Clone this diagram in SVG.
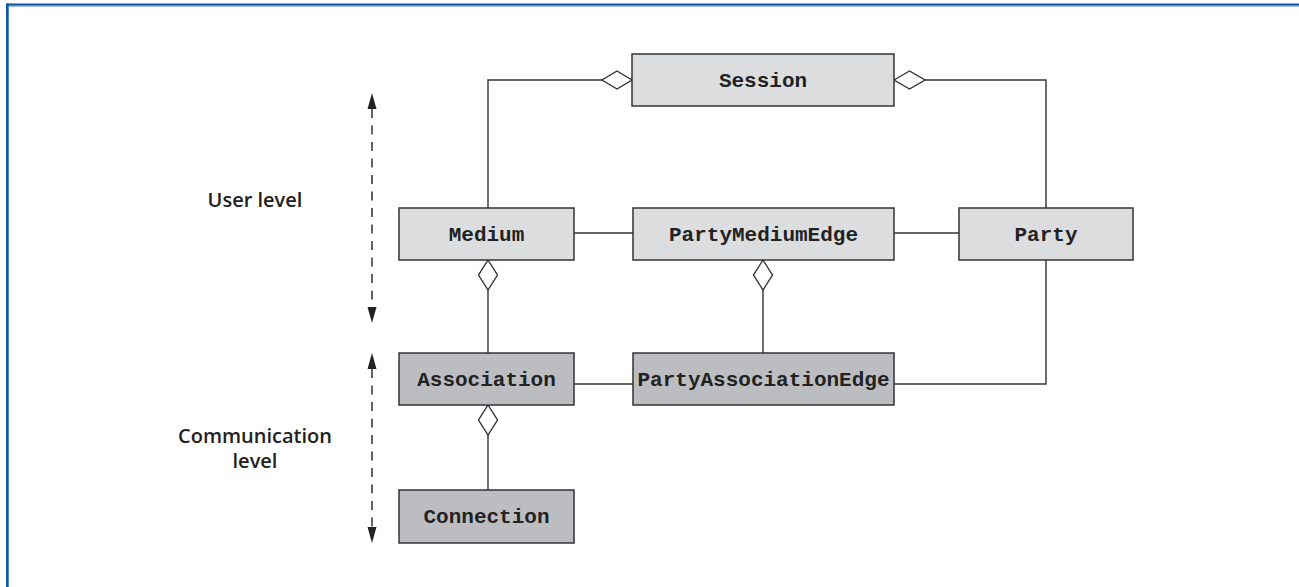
<svg xmlns="http://www.w3.org/2000/svg" width="1299" height="587" viewBox="0 0 1299 587">
<style>
.box{stroke:#333;stroke-width:1.5}
.light{fill:#dcdddf}
.dark{fill:#bcbdc1}
.lbl{font-family:"Liberation Mono","Courier New",monospace;font-weight:bold;font-size:21px;fill:#222;text-anchor:middle}
.side{font-family:"Open Sans","Liberation Sans",sans-serif;font-weight:600;font-size:20px;fill:#222;text-anchor:middle}
.ln{fill:none;stroke:#333;stroke-width:1.4}
.dia{fill:#fff;stroke:#333;stroke-width:1.4}
.dash{fill:none;stroke:#222;stroke-width:1.4;stroke-dasharray:9 7.5}
.ah{fill:#222}
</style>
<rect x="0" y="0" width="1299" height="587" fill="#fff"/>
<g id="frame">
<rect x="6" y="3.5" width="1293" height="2" fill="#0d4c96"/>
<rect x="6" y="5.5" width="1293" height="1" fill="#3a7bc0"/>
<rect x="6" y="3.5" width="2.7" height="583.5" fill="#0d5aa7"/>
</g>
<g id="levels">
<text class="side" x="255" y="207">User level</text>
<text class="side" x="255" y="443">Communication</text>
<text class="side" x="255" y="468">level</text>
<line class="dash" x1="372" y1="109" x2="372" y2="307"/>
<polygon class="ah" points="372,93 367.5,109 376.5,109"/>
<polygon class="ah" points="372,323 367.5,307 376.5,307"/>
<line class="dash" x1="372" y1="369" x2="372" y2="527"/>
<polygon class="ah" points="372,353 367.5,369 376.5,369"/>
<polygon class="ah" points="372,543 367.5,527 376.5,527"/>
</g>
<g id="connectors">
<polyline class="ln" points="602,80 488,80 488,208"/>
<polygon class="dia" points="632,80 617,71 602,80 617,89"/>
<polyline class="ln" points="925,80 1046,80 1046,208"/>
<polygon class="dia" points="894,80 909.5,71 925,80 909.5,89"/>
<line class="ln" x1="574" y1="233" x2="633" y2="233"/>
<line class="ln" x1="894" y1="233" x2="959" y2="233"/>
<line class="ln" x1="488" y1="290" x2="488" y2="353"/>
<polygon class="dia" points="488,260 497.5,275 488,290 478.5,275"/>
<line class="ln" x1="763" y1="290" x2="763" y2="353"/>
<polygon class="dia" points="763,260 772.5,275 763,290 753.5,275"/>
<line class="ln" x1="574" y1="384" x2="633" y2="384"/>
<polyline class="ln" points="894,384 1046,384 1046,260"/>
<line class="ln" x1="488" y1="435" x2="488" y2="490"/>
<polygon class="dia" points="488,405 497.5,420 488,435 478.5,420"/>
</g>
<g id="session"><rect class="box light" x="632" y="54" width="262" height="52"/><text class="lbl" x="763" y="87">Session</text></g>
<g id="medium"><rect class="box light" x="399" y="208" width="175" height="52"/><text class="lbl" x="486.5" y="241">Medium</text></g>
<g id="partymediumedge"><rect class="box light" x="633" y="208" width="261" height="52"/><text class="lbl" x="763.5" y="241">PartyMediumEdge</text></g>
<g id="party"><rect class="box light" x="959" y="208" width="174" height="52"/><text class="lbl" x="1046" y="241">Party</text></g>
<g id="association"><rect class="box dark" x="399" y="353" width="175" height="52"/><text class="lbl" x="486.5" y="386">Association</text></g>
<g id="partyassociationedge"><rect class="box dark" x="633" y="353" width="261" height="52"/><text class="lbl" x="763.5" y="386">PartyAssociationEdge</text></g>
<g id="connection"><rect class="box dark" x="399" y="490" width="175" height="53"/><text class="lbl" x="486.5" y="523">Connection</text></g>
</svg>
